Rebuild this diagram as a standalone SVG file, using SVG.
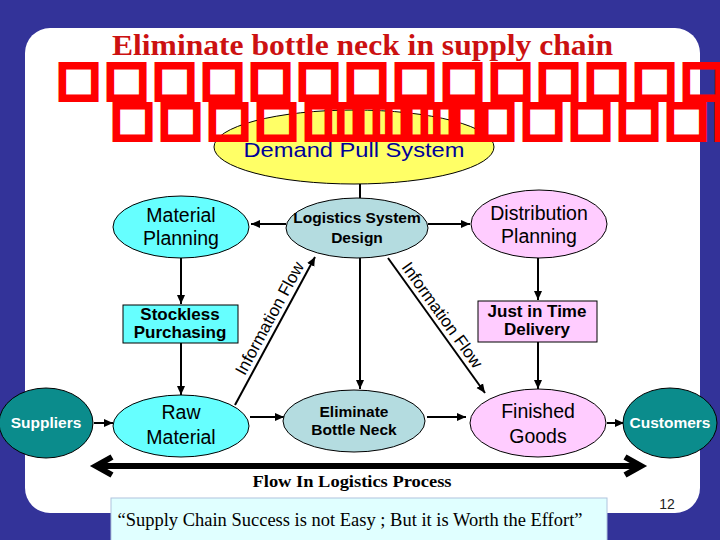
<svg xmlns="http://www.w3.org/2000/svg" width="720" height="540" viewBox="0 0 720 540">
<defs>
<style>
.t{font-family:"Liberation Sans",Arial,Helvetica,sans-serif;text-anchor:middle;fill:#000}
.n{font-size:19.5px}
.b{font-size:15.5px;font-weight:bold}
.bx{font-size:17px;font-weight:bold}
.w{font-size:15.5px;font-weight:bold;fill:#fff}
.inf{font-size:17px}
.ser{font-family:"Liberation Serif","Times New Roman",serif;text-anchor:middle}
.tofu{font-family:"DejaVu Sans",sans-serif;font-size:46px;fill:#ff0000;stroke:#ff0000;stroke-width:5}
.c{stroke:#000;stroke-width:2;fill:none}
.o{stroke:#000;stroke-width:1}
.cy{fill:#66ffff}
.gc{fill:#b4dce0}
.pk{fill:#ffccff}
.tl{fill:#0b8c8c}
</style>
<marker id="ah" markerUnits="userSpaceOnUse" markerWidth="10" markerHeight="10" refX="9" refY="5" orient="auto"><path d="M0,1 L9,5 L0,9 z" fill="#000"/></marker>
<marker id="big" markerUnits="userSpaceOnUse" markerWidth="30" markerHeight="30" refX="18" refY="11" orient="auto-start-reverse" overflow="visible"><path d="M2,2 L18,11 L2,20" fill="none" stroke="#000" stroke-width="6"/></marker>
</defs>
<rect x="0" y="0" width="720" height="540" fill="#333399"/>
<rect x="25" y="28" width="675" height="485" rx="25" fill="#ffffff"/>
<text class="ser" x="362.5" y="55" font-size="30" font-weight="bold" fill="#cc1111" textLength="501" lengthAdjust="spacingAndGlyphs">Eliminate bottle neck in supply chain</text>
<g id="connectors">
<path class="c" d="M360,184 L360,198"/>
<path class="c" d="M286,224 L251,224" marker-end="url(#ah)"/>
<path class="c" d="M428,224 L470,224" marker-end="url(#ah)"/>
<path class="c" d="M181,258 L181,304" marker-end="url(#ah)"/>
<path class="c" d="M181,343 L181,395" marker-end="url(#ah)"/>
<path class="c" d="M538,258 L538,300" marker-end="url(#ah)"/>
<path class="c" d="M538,342 L538,389" marker-end="url(#ah)"/>
<path class="c" d="M360,258 L360,389" marker-end="url(#ah)"/>
<path class="c" d="M235,405 L315,257" marker-end="url(#ah)"/>
<path class="c" d="M388,258 L485,393" marker-end="url(#ah)"/>
<path class="c" d="M94,423 L113,423" marker-end="url(#ah)"/>
<path class="c" d="M250,417 L284,417" marker-end="url(#ah)"/>
<path class="c" d="M427,417 L466,417" marker-end="url(#ah)"/>
<path class="c" d="M607,423 L624,423" marker-end="url(#ah)"/>
<path d="M96,466 L641,466" stroke="#000" stroke-width="6" fill="none" marker-start="url(#big)" marker-end="url(#big)"/>
<text class="t inf" x="274.6" y="321" transform="rotate(-61.6 274.6 321)">Information Flow</text>
<text class="t inf" x="437.6" y="318.4" transform="rotate(54.3 437.6 318.4)">Information Flow</text>
</g>
<g id="demand"><ellipse cx="354" cy="147" rx="140" ry="37" fill="#ffff66" class="o"/><text class="t" x="354" y="157" font-size="21" style="fill:#000099" textLength="221" lengthAdjust="spacingAndGlyphs">Demand Pull System</text></g>
<g id="material"><ellipse cx="181" cy="227" rx="68" ry="31" class="o cy"/><text class="t n" x="181" y="222">Material</text><text class="t n" x="181" y="245">Planning</text></g>
<g id="logistics"><ellipse cx="357" cy="228" rx="71" ry="30" class="o gc"/><text class="t b" x="357" y="223">Logistics System</text><text class="t b" x="357" y="243">Design</text></g>
<g id="distribution"><ellipse cx="539" cy="224" rx="68" ry="34" class="o pk"/><text class="t n" x="539" y="220">Distribution</text><text class="t n" x="539" y="243">Planning</text></g>
<g id="stockless"><rect x="123" y="305" width="115" height="38" class="o cy"/><text class="t bx" x="180" y="320">Stockless</text><text class="t bx" x="180" y="338">Purchasing</text></g>
<g id="jit"><rect x="478" y="301" width="119" height="41" class="o pk"/><text class="t bx" x="537" y="317">Just in Time</text><text class="t bx" x="537" y="335">Delivery</text></g>
<g id="suppliers"><ellipse cx="46" cy="423" rx="47" ry="35" class="o tl"/><text class="t w" x="46" y="428">Suppliers</text></g>
<g id="raw"><ellipse cx="181" cy="426" rx="68" ry="31" class="o cy"/><text class="t n" x="181" y="419">Raw</text><text class="t n" x="181" y="444">Material</text></g>
<g id="eliminate"><ellipse cx="354" cy="421" rx="71" ry="31" class="o gc"/><text class="t b" x="354" y="417">Eliminate</text><text class="t b" x="354" y="435">Bottle Neck</text></g>
<g id="finished"><ellipse cx="538" cy="423" rx="68" ry="34" class="o pk"/><text class="t n" x="538" y="418">Finished</text><text class="t n" x="538" y="443">Goods</text></g>
<g id="customers"><ellipse cx="670" cy="423" rx="47" ry="35" class="o tl"/><text class="t w" x="670" y="428">Customers</text></g>
<text class="ser" x="352" y="487" font-size="17" font-weight="bold" textLength="199" lengthAdjust="spacingAndGlyphs">Flow In Logistics Process</text>
<rect x="111" y="498" width="496" height="50" fill="#e0ffff" stroke="#b0c4de"/>
<text class="ser" x="350" y="526" font-size="18" textLength="465" lengthAdjust="spacingAndGlyphs">“Supply Chain Success is not Easy ; But it is Worth the Effort”</text>
<text class="t" x="667" y="509" font-size="14" style="fill:#222">12</text>
<text class="tofu" x="57 105 153 201 249 297 345 393 441 489 537 585 633 681" y="94">□□□□□□□□□□□□□□</text>
<text class="tofu" x="111 159 207 255 303 323 351 371 399 419 447 473 521 569 617 665 713" y="134">□□□□□□□□□□□□□□□□□</text>
</svg>
